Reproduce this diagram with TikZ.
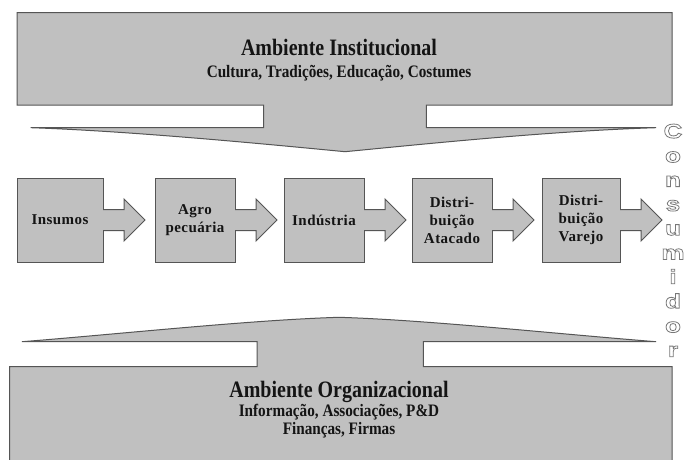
\documentclass[tikz,border=0pt]{standalone}
\usepackage{fontspec}
\setmainfont{Liberation Serif}
\newfontfamily\titlefont[FakeStretch=0.85]{Liberation Serif}
\newfontfamily\subfont[FakeStretch=0.87]{Liberation Serif}
\newfontfamily\boxfont[LetterSpace=3]{Liberation Serif}
\newfontfamily\consfont[FakeStretch=1.3]{Liberation Sans}
\usetikzlibrary{calc}
\definecolor{shapegray}{RGB}{192,192,192}
\definecolor{edgegray}{RGB}{85,85,85}
\definecolor{consgray}{RGB}{120,120,120}
\definecolor{inkgray}{RGB}{20,20,20}
\newcommand\strokeon{\special{pdf:literal direct 1 Tr 0.8 w}}
\newcommand\strokeoff{\special{pdf:literal direct 0 Tr}}
\tikzset{
  bigshape/.style={fill=shapegray, draw=edgegray, line width=1pt, line join=miter},
  procbox/.style={rectangle, fill=shapegray, draw=edgegray, line width=1pt,
    minimum height=84pt, inner sep=0pt, outer sep=0pt, align=center, text=inkgray,
    font=\boxfont\bfseries\fontsize{15}{18}\selectfont},
  arrowedge/.style={draw=edgegray, line width=1pt, line join=miter},
  titletext/.style={anchor=base, inner sep=0pt, text=inkgray,
    font=\titlefont\bfseries\fontsize{23.5}{26}\selectfont},
  subtext/.style={anchor=base, inner sep=0pt, text=inkgray,
    font=\subfont\bfseries\fontsize{17.5}{17.6}\selectfont},
  consletter/.style={anchor=base, inner sep=0pt, text=consgray,
    font=\consfont\bfseries\fontsize{20}{20}\selectfont}
}
\newcommand\blockarrow[1]{%
  \fill[shapegray] ([xshift=-1.2pt,yshift=10.5pt]#1.east) rectangle ([xshift=21pt,yshift=-10.5pt]#1.east);
  \fill[shapegray] ([xshift=21pt,yshift=21pt]#1.east) -- ([xshift=42pt]#1.east) -- ([xshift=21pt,yshift=-21pt]#1.east) -- cycle;
  \draw[arrowedge] ([yshift=10.5pt]#1.east) -- ([xshift=21pt,yshift=10.5pt]#1.east)
    -- ([xshift=21pt,yshift=21pt]#1.east) -- ([xshift=42pt]#1.east)
    -- ([xshift=21pt,yshift=-21pt]#1.east) -- ([xshift=21pt,yshift=-10.5pt]#1.east)
    -- ([yshift=-10.5pt]#1.east);
}
\begin{document}
\begin{tikzpicture}[x=1pt,y=-1pt]
\useasboundingbox (0,0) rectangle (685,460);
\clip (0,0) rectangle (685,460);
\fill[white] (0,0) rectangle (685,460);

% top block arrow (institutional environment)
\draw[bigshape] (17,12.7) -- (672,12.7) -- (672,105) -- (426.4,105) -- (426.4,127.7) -- (656,127.7)
  .. controls (550,131) and (425,144) .. (345,151.7)
  .. controls (265,144) and (130,131) .. (30.7,127.7)
  -- (263.7,127.7) -- (263.7,105) -- (17,105) -- cycle;

% bottom block arrow (organizational environment)
\draw[bigshape] (9.7,475) -- (9.7,366.7) -- (257.2,366.7) -- (257.2,341.7) -- (22,341.7)
  .. controls (120,334) and (250,320) .. (339,317.3)
  .. controls (428,320) and (558,334) .. (656,341.7)
  -- (423.4,341.7) -- (423.4,366.7) -- (672,366.7) -- (672,475) -- cycle;

\node[titletext] (inst) at (339,56) {Ambiente Institucional};
\node[subtext] (instsub) at (339,77.5) {Cultura, Tradições, Educação, Costumes};
\node[titletext] (org) at (339,397.5) {Ambiente Organizacional};
\node[subtext] (orgsub) at (339,416.5) {Informação, Associações, P\&D};
\node[subtext] (orgsubb) at (339,434.1) {Finanças, Firmas};

% chain
\node[procbox, minimum width=86pt] (b1) at (60,220) {Insumos};
\node[procbox, minimum width=80pt] (b2) at (195,220) {Agro\\pecuária};
\node[procbox, minimum width=80pt] (b3) at (324,220) {Indústria};
\node[procbox, minimum width=80pt] (b4) at (452,220) {Distri-\\buição\\Atacado};
\node[procbox, minimum width=78pt] (b5) at (581,220) {Distri-\\buição\\Varejo};
\blockarrow{b1}
\blockarrow{b2}
\blockarrow{b3}
\blockarrow{b4}
\blockarrow{b5}

% vertical outlined word
\foreach \ch [count=\i] in {C,o,n,s,u,m,i,d,o,r} {
  \node[consletter] (cons\i) at (673,{138+24.3*(\i-1)}) {\strokeon\ch\strokeoff};
}
\end{tikzpicture}
\end{document}
